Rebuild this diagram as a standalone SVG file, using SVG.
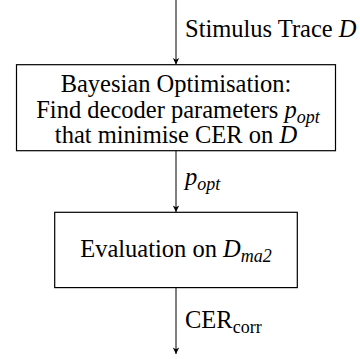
<svg xmlns="http://www.w3.org/2000/svg" width="360" height="359" viewBox="0 0 360 359">
  <style>
    .box { fill: #ffffff; stroke: #000000; stroke-width: 1.2; }
    .edge { fill: none; stroke: #000000; stroke-width: 1; }
    text { font-family: "Liberation Serif", "Times New Roman", serif; font-size: 24.5px; fill: #000000; }
    .c { text-anchor: middle; }
    .i { font-style: italic; }
    .sub { font-size: 18px; }
  </style>
  <defs>
    <marker id="arr" viewBox="-7 -4 8 8" refX="0" refY="0" markerWidth="8" markerHeight="8" markerUnits="userSpaceOnUse" orient="auto">
      <path d="M0,0 L-6.5,-3.2 L-4.8,0 L-6.5,3.2 z" fill="#000000"/>
    </marker>
  </defs>
  <rect width="360" height="359" fill="#ffffff"/>
  <g id="connectors">
    <line class="edge" x1="176" y1="0" x2="176" y2="64.5" marker-end="url(#arr)"/>
    <line class="edge" x1="176" y1="151" x2="176" y2="212" marker-end="url(#arr)"/>
    <line class="edge" x1="176" y1="288" x2="176" y2="354" marker-end="url(#arr)"/>
    <text x="185" y="37">Stimulus Trace <tspan class="i">D</tspan></text>
    <text x="185" y="185" class="i">p<tspan class="sub" dy="5">opt</tspan></text>
    <text x="185" y="328">CER<tspan class="sub" dy="5">corr</tspan></text>
  </g>
  <g id="node-bayes">
    <rect class="box" x="16.5" y="64.7" width="319" height="86"/>
    <text class="c" x="176" y="92">Bayesian Optimisation:</text>
    <text class="c" x="178" y="118">Find decoder parameters <tspan class="i">p</tspan><tspan class="i sub" dy="5">opt</tspan></text>
    <text class="c" x="176" y="143">that minimise CER on <tspan class="i">D</tspan></text>
  </g>
  <g id="node-eval">
    <rect class="box" x="54.7" y="212.3" width="242.6" height="75.3"/>
    <text class="c" x="176" y="257">Evaluation on <tspan class="i">D</tspan><tspan class="i sub" dy="5">ma2</tspan></text>
  </g>
</svg>
